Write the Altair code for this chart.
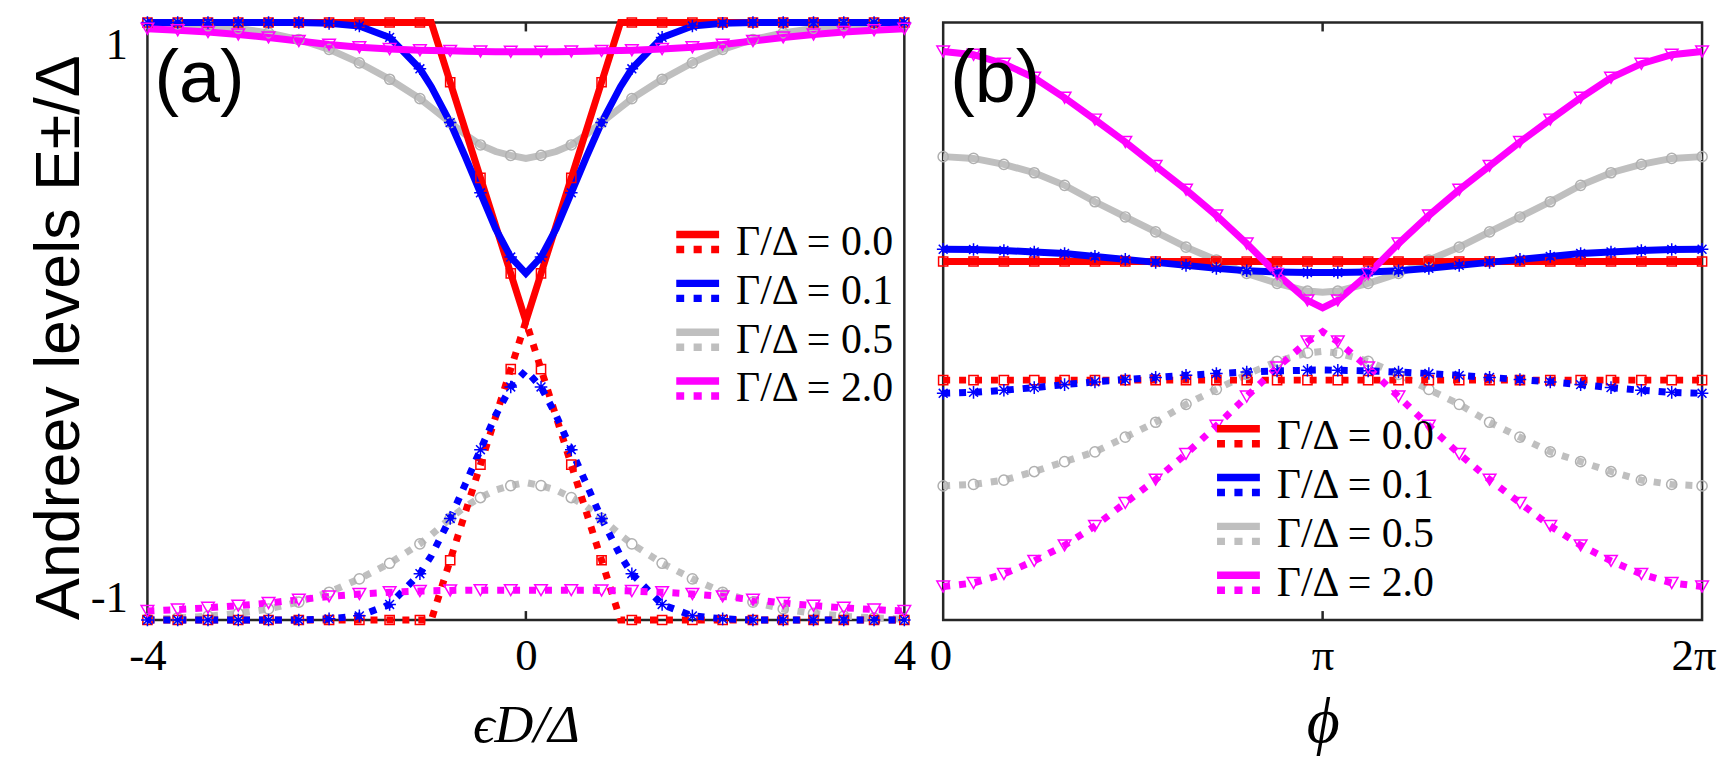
import altair as alt
import pandas as pd

SERIES = ["Γ/Δ = 0.0", "Γ/Δ = 0.1", "Γ/Δ = 0.5", "Γ/Δ = 2.0"]
COLORS = ["#ff0000", "#0000ff", "#bfbfbf", "#ff00ff"]
MARKER_COLORS = ["#ff0000", "#0000ff", "#b0b0b0", "#ff00ff"]
ASTERISK = "M-1,0H1M0,-1V1M-0.7,-0.7L0.7,0.7M-0.7,0.7L0.7,-0.7"
MARKER_SHAPES = ["square", ASTERISK, "circle", "triangle-down"]
MARKER_SIZES = [85, 160, 105, 160]
DRAW_ORDER = [2, 0, 1, 3]

# ---------------- panel (a): levels vs eps_D / Delta ----------------
EPS = [-4.0, -3.68, -3.36, -3.04, -2.72, -2.4, -2.08, -1.76, -1.44, -1.12,
       -1.0, -0.8, -0.64, -0.48, -0.32, -0.16, 0.0, 0.16, 0.32, 0.48, 0.64, 0.8, 1.0,
       1.12, 1.44, 1.76, 2.08, 2.4, 2.72, 3.04, 3.36, 3.68, 4.0]
EPS_MARKER = [1, 1, 1, 1, 1, 1, 1, 1, 1, 1,
              0, 1, 0, 1, 0, 1, 0, 1, 0, 1, 0, 1, 0,
              1, 1, 1, 1, 1, 1, 1, 1, 1, 1]

A_RED_UP = [1, 1, 1, 1, 1, 1, 1, 1, 1, 1,
            1, 0.8, 0.64, 0.48, 0.32, 0.16, 0.0, 0.16, 0.32, 0.48, 0.64, 0.8, 1,
            1, 1, 1, 1, 1, 1, 1, 1, 1, 1]
A_RED_DN = [-1, -1, -1, -1, -1, -1, -1, -1, -1, -1,
            -1, -0.8, -0.64, -0.48, -0.32, -0.16, 0.0, -0.16, -0.32, -0.48, -0.64, -0.8, -1,
            -1, -1, -1, -1, -1, -1, -1, -1, -1, -1]
A_BLUE_UP = [1, 1, 1, 1, 1, 1, 0.997, 0.988, 0.95, 0.845,
             0.785, 0.665, 0.55, 0.43, 0.31, 0.215, 0.16, 0.215, 0.31, 0.43, 0.55, 0.665, 0.785,
             0.845, 0.95, 0.988, 0.997, 1, 1, 1, 1, 1, 1]
A_BLUE_DN = [-1, -1, -1, -1, -1, -1, -0.996, -0.986, -0.948, -0.845,
             -0.785, -0.66, -0.545, -0.43, -0.315, -0.22, -0.165, -0.22, -0.315, -0.43, -0.545, -0.66, -0.785,
             -0.845, -0.948, -0.986, -0.996, -1, -1, -1, -1, -1, -1]
A_GRAY_UP = [0.998, 0.995, 0.989, 0.98, 0.965, 0.943, 0.91, 0.865, 0.81, 0.745,
             0.715, 0.665, 0.625, 0.59, 0.568, 0.555, 0.545, 0.555, 0.568, 0.59, 0.625, 0.665, 0.715,
             0.745, 0.81, 0.865, 0.91, 0.943, 0.965, 0.98, 0.989, 0.995, 0.998]
A_GRAY_DN = [-0.997, -0.993, -0.987, -0.978, -0.963, -0.94, -0.907, -0.862, -0.81, -0.745,
             -0.715, -0.66, -0.62, -0.59, -0.565, -0.55, -0.54, -0.55, -0.565, -0.59, -0.62, -0.66, -0.715,
             -0.745, -0.81, -0.862, -0.907, -0.94, -0.963, -0.978, -0.987, -0.993, -0.997]
A_MAG_UP = [0.979, 0.974, 0.968, 0.96, 0.95, 0.938, 0.926, 0.917, 0.911, 0.907,
            0.906, 0.905, 0.904, 0.903, 0.902, 0.902, 0.902, 0.902, 0.902, 0.903, 0.904, 0.905, 0.906,
            0.907, 0.911, 0.917, 0.926, 0.938, 0.95, 0.96, 0.968, 0.974, 0.979]
A_MAG_DN = [-0.97, -0.965, -0.959, -0.952, -0.943, -0.932, -0.921, -0.913, -0.907, -0.903,
            -0.902, -0.901, -0.9, -0.9, -0.9, -0.9, -0.9, -0.9, -0.9, -0.9, -0.9, -0.901, -0.902,
            -0.903, -0.907, -0.913, -0.921, -0.932, -0.943, -0.952, -0.959, -0.965, -0.97]

# ---------------- panel (b): levels vs phi ----------------
PHI = [0.0, 0.2513, 0.5027, 0.754, 1.0053, 1.2566, 1.508, 1.7593, 2.0106, 2.2619, 2.5133, 2.7646, 3.0159, 3.1416,
       3.2673, 3.5186, 3.7699, 4.0212, 4.2726, 4.5239, 4.7752, 5.0265, 5.2779, 5.5292, 5.7805, 6.0319, 6.2832]
PHI_MARKER = [1, 1, 1, 1, 1, 1, 1, 1, 1, 1, 1, 1, 1, 0, 1, 1, 1, 1, 1, 1, 1, 1, 1, 1, 1, 1, 1]

B_RED_UP = [0.2, 0.2, 0.2, 0.2, 0.2, 0.2, 0.2, 0.2, 0.2, 0.2, 0.2, 0.2, 0.2, 0.2, 0.2, 0.2, 0.2, 0.2, 0.2, 0.2,
            0.2, 0.2, 0.2, 0.2, 0.2, 0.2, 0.2]
B_RED_DN = [-0.197, -0.197, -0.197, -0.197, -0.197, -0.197, -0.197, -0.197, -0.197, -0.197, -0.197, -0.197,
            -0.197, -0.197, -0.197, -0.197, -0.197, -0.197, -0.197, -0.197, -0.197, -0.197, -0.197, -0.197,
            -0.197, -0.197, -0.197]
B_BLUE_UP = [0.241, 0.240, 0.237, 0.232, 0.227, 0.217, 0.207, 0.197, 0.187, 0.177, 0.169, 0.165, 0.163, 0.163,
             0.163, 0.165, 0.169, 0.177, 0.187, 0.197, 0.207, 0.217, 0.227, 0.232, 0.237, 0.240, 0.241]
B_BLUE_DN = [-0.241, -0.238, -0.231, -0.222, -0.212, -0.203, -0.195, -0.188, -0.181, -0.175, -0.170, -0.166,
             -0.164, -0.163, -0.164, -0.166, -0.170, -0.175, -0.181, -0.188, -0.195, -0.203, -0.212, -0.222,
             -0.231, -0.238, -0.241]
B_GRAY_UP = [0.551, 0.545, 0.525, 0.497, 0.455, 0.400, 0.349, 0.299, 0.248, 0.205, 0.160, 0.127, 0.101, 0.097,
             0.101, 0.127, 0.160, 0.205, 0.248, 0.299, 0.349, 0.400, 0.455, 0.497, 0.525, 0.545, 0.551]
B_GRAY_DN = [-0.551, -0.546, -0.532, -0.503, -0.470, -0.437, -0.388, -0.338, -0.278, -0.228, -0.178, -0.134,
             -0.106, -0.101, -0.106, -0.134, -0.178, -0.228, -0.278, -0.338, -0.388, -0.437, -0.470, -0.503,
             -0.532, -0.546, -0.551]
B_MAG_UP = [0.903, 0.892, 0.862, 0.815, 0.748, 0.675, 0.600, 0.520, 0.440, 0.354, 0.260, 0.158, 0.070, 0.045,
            0.070, 0.158, 0.260, 0.354, 0.440, 0.520, 0.600, 0.675, 0.748, 0.815, 0.862, 0.892, 0.903]
B_MAG_DN = [-0.888, -0.876, -0.846, -0.802, -0.750, -0.685, -0.608, -0.530, -0.444, -0.350, -0.252, -0.155,
            -0.068, -0.035, -0.068, -0.155, -0.252, -0.350, -0.444, -0.530, -0.608, -0.685, -0.750, -0.802,
            -0.846, -0.876, -0.888]

LEGEND_SYMBOL = "M-1,-0.35H1M-1,0.35H-0.63M-0.19,0.35H0.19M0.63,0.35H1"
FRAME = "#262626"
PLOT_H = 600
LINE_W = 7


def build_panel(xs, marks, ups, dns, x_domain, x_axis, y_axis, width, legend_xy, tag, tag_xy, tick_x):
    xscale = alt.Scale(domain=x_domain, nice=False, zero=False)
    yscale = alt.Scale(domain=[-1, 1], nice=False, zero=False)
    cscale = alt.Scale(domain=SERIES, range=COLORS)
    legend = alt.Legend(
        orient="none", legendX=legend_xy[0], legendY=legend_xy[1], title=None,
        symbolType=LEGEND_SYMBOL, symbolSize=1849, symbolStrokeWidth=7.5,
        symbolFillColor="transparent", labelFont="Liberation Serif", labelFontSize=42,
        labelLimit=400, labelColor="black", labelOffset=13, rowPadding=0, padding=0,
        direction="vertical",
    )

    def enc(chart):
        return chart.encode(
            x=alt.X("x:Q", scale=xscale, axis=x_axis),
            y=alt.Y("E:Q", scale=yscale, axis=y_axis),
        )

    layers = []
    for i in DRAW_ORDER:
        d_up = pd.DataFrame({"x": xs, "E": ups[i], "series": SERIES[i]})
        d_dn = pd.DataFrame({"x": xs, "E": dns[i], "series": SERIES[i]})
        layers.append(
            enc(alt.Chart(d_up).mark_line(strokeWidth=LINE_W, strokeCap="butt")).encode(
                color=alt.Color("series:N", scale=cscale, legend=legend)
            )
        )
        layers.append(
            enc(alt.Chart(d_dn).mark_line(strokeWidth=LINE_W, strokeCap="butt", strokeDash=[7, 9],
                                          color=COLORS[i]))
        )
    for i in DRAW_ORDER:
        d = pd.DataFrame({
            "x": list(xs) + list(xs),
            "E": list(ups[i]) + list(dns[i]),
            "m": list(marks) + list(marks),
        })
        d = d[d["m"] == 1]
        layers.append(
            enc(alt.Chart(d).mark_point(shape=MARKER_SHAPES[i], size=MARKER_SIZES[i], filled=False,
                                        strokeWidth=1.5, color=MARKER_COLORS[i], opacity=1))
        )
    ticks = pd.DataFrame({"x": [tick_x, tick_x], "E": [-1.0, 0.97], "E2": [-0.97, 1.0]})
    layers.append(
        alt.Chart(ticks).mark_rule(color=FRAME, strokeWidth=2.5).encode(
            x=alt.X("x:Q", scale=xscale, axis=x_axis),
            y=alt.Y("E:Q", scale=yscale, axis=y_axis),
            y2="E2:Q",
        )
    )
    tags = pd.DataFrame({"x": [tag_xy[0]], "E": [tag_xy[1]], "t": [tag]})
    layers.append(
        enc(alt.Chart(tags).mark_text(align="left", baseline="alphabetic", font="Liberation Sans",
                                      fontSize=74, color="black")).encode(text="t:N")
    )
    return alt.layer(*layers).properties(width=width, height=PLOT_H)


axis_common = dict(ticks=False, domain=False, grid=False, labelColor="black", titleColor="black",
                   labelFont="Liberation Serif", labelFontSize=45, titleFontWeight="normal")

x_axis_a = alt.Axis(values=[-4, 0, 4],
                    labelExpr="datum.value < 0 ? '-' + abs(datum.value) : '' + datum.value",
                    labelPadding=14, labelFlush=False, title="ϵD/Δ", titleFont="Liberation Serif",
                    titleFontSize=54, titleFontStyle="italic", titleY=122, titleBaseline="alphabetic",
                    **axis_common)
y_axis_a = alt.Axis(values=[-1, 1],
                    labelExpr="datum.value < 0 ? '-' + abs(datum.value) : '' + datum.value",
                    labelPadding=20, labelFlush=True, title="Andreev levels E±/Δ",
                    titleFont="Liberation Sans", titleFontSize=63, titleX=-69, titleY=316,
                    titleAngle=270, titleBaseline="alphabetic", titleAlign="center", **axis_common)
x_axis_b = alt.Axis(values=[0, 3.14159265, 6.2831853],
                    labelExpr="datum.value < 1 ? '0' : (datum.value < 4 ? 'π' : '2π')",
                    labelPadding=14, labelFlush=True, labelFlushOffset=14, title="ϕ",
                    titleFont="Liberation Serif", titleFontSize=64, titleFontStyle="italic", titleY=122,
                    titleBaseline="alphabetic", **axis_common)

A_UPS = [A_RED_UP, A_BLUE_UP, A_GRAY_UP, A_MAG_UP]
A_DNS = [A_RED_DN, A_BLUE_DN, A_GRAY_DN, A_MAG_DN]
B_UPS = [B_RED_UP, B_BLUE_UP, B_GRAY_UP, B_MAG_UP]
B_DNS = [B_RED_DN, B_BLUE_DN, B_GRAY_DN, B_MAG_DN]

left = build_panel(EPS, EPS_MARKER, A_UPS, A_DNS, [-4, 4], x_axis_a, y_axis_a, 760,
                   (527, 195), "(a)", (-3.926, 0.735), 0.0)
right = build_panel(PHI, PHI_MARKER, B_UPS, B_DNS, [0, 6.2831853], x_axis_b, None, 762,
                    (271, 390), "(b)", (0.058, 0.735), 3.14159265)

chart = (
    alt.HConcatChart(hconcat=[left, right], spacing=39, bounds="flush")
    .resolve_legend(color="independent")
    .properties(padding={"left": 19, "right": 0, "top": -3, "bottom": 0})
    .configure_view(stroke=FRAME, strokeWidth=2.5)
    .configure_concat(spacing=39)
)

chart.save("out.html", embed_options={"renderer": "svg", "actions": False})
